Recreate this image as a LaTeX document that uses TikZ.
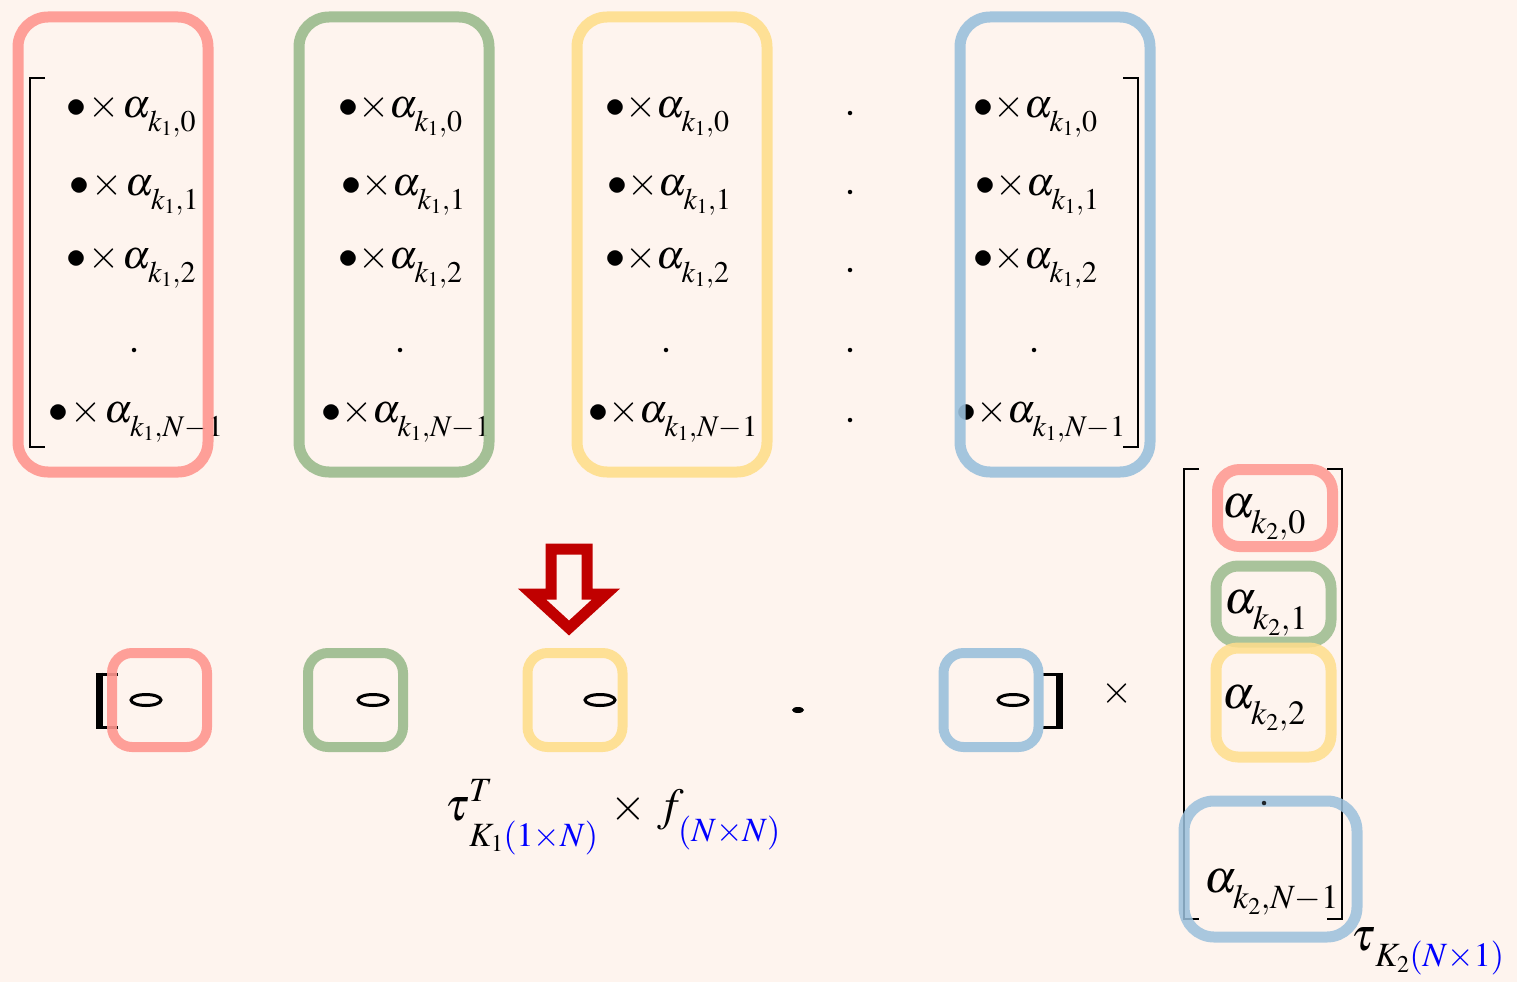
\documentclass[tikz,border=0pt]{standalone}
\usepackage{mathptmx}
\DeclareMathSizes{40}{40}{30}{21}
\DeclareMathSizes{46}{46}{34}{24}
\usetikzlibrary{shapes.geometric}
\definecolor{bg}{RGB}{254,244,238}
\definecolor{cred}{RGB}{255,150,143}
\definecolor{cgreen}{RGB}{155,187,141}
\definecolor{cyellow}{RGB}{255,222,140}
\definecolor{cblue}{RGB}{155,192,220}
\definecolor{darr}{RGB}{192,0,0}
\newcommand{\lo}[2]{\raisebox{-#1}{$\scriptstyle #2$}}
\newcommand{\hi}[2]{\raisebox{#1}{$\scriptstyle #2$}}
\newcommand{\bxa}{{\bullet}\mkern1mu{\times}\mkern1.5mu\alpha}
\newcommand{\bxt}{{\bullet}{\times}\alpha}
\begin{document}
\begin{tikzpicture}[x=1pt,y=-1pt,
  ent/.style={anchor=base west, inner sep=0pt, font=\fontsize{40}{48}\selectfont},
  rent/.style={anchor=base west, inner sep=0pt, font=\fontsize{46}{54}\selectfont},
  bigbox/.style={draw=#1, draw opacity=0.9, line width=11pt, rounded corners=30pt, minimum width=190pt, minimum height=455pt, inner sep=0pt},
  smallbox/.style={draw=#1, draw opacity=0.9, line width=10pt, rounded corners=20pt, minimum width=95pt, minimum height=94pt, inner sep=0pt},
  vbox/.style={draw=#1, draw opacity=0.85, line width=11pt, rounded corners=22pt, inner sep=0pt},
  dotnode/.style={circle, fill=black, inner sep=0pt, minimum size=4.5pt},
  ring/.style={ellipse, draw=black, line width=3pt, minimum width=30pt, minimum height=11pt, inner sep=0pt},
  brk/.style={line width=2pt},
]
\fill[bg] (0,0) rectangle (1517,982);
\useasboundingbox (0,0) rectangle (1517,982);

% ---- top matrix entries
\node[ent] (a10) at (66,117) {$\bxa_{\lo{8pt}{k_1,0}}$};
\node[ent] (a11) at (69,195) {$\bxa_{\lo{8pt}{k_1,1}}$};
\node[ent] (a12) at (66,268) {$\bxa_{\lo{8pt}{k_1,2}}$};
\node[dotnode] (a1d) at (134,350) {};
\node[ent] (a1n) at (48,422) {$\bxa_{\lo{8pt}{k_1,N{-}1}}$};

\node[ent] (a20) at (338,117) {$\bxt_{\lo{8pt}{k_1,0}}$};
\node[ent] (a21) at (341,195) {$\bxt_{\lo{8pt}{k_1,1}}$};
\node[ent] (a22) at (338,268) {$\bxt_{\lo{8pt}{k_1,2}}$};
\node[dotnode] (a2d) at (400,350) {};
\node[ent] (a2n) at (321,422) {$\bxt_{\lo{8pt}{k_1,N{-}1}}$};

\node[ent] (a30) at (605,117) {$\bxt_{\lo{8pt}{k_1,0}}$};
\node[ent] (a31) at (607,195) {$\bxt_{\lo{8pt}{k_1,1}}$};
\node[ent] (a32) at (605,268) {$\bxt_{\lo{8pt}{k_1,2}}$};
\node[dotnode] (a3d) at (666,350) {};
\node[ent] (a3n) at (588,422) {$\bxt_{\lo{8pt}{k_1,N{-}1}}$};

\node[dotnode] (d1) at (850,113) {};
\node[dotnode] (d2) at (850,192) {};
\node[dotnode] (d3) at (850,270) {};
\node[dotnode] (d4) at (850,350) {};
\node[dotnode] (d5) at (850,420) {};

\node[ent] (a50) at (973,117) {$\bxt_{\lo{8pt}{k_1,0}}$};
\node[ent] (a51) at (975,195) {$\bxt_{\lo{8pt}{k_1,1}}$};
\node[ent] (a52) at (973,268) {$\bxt_{\lo{8pt}{k_1,2}}$};
\node[dotnode] (a5d) at (1034,350) {};
\node[ent] (a5n) at (956,422) {$\bxt_{\lo{8pt}{k_1,N{-}1}}$};

% top brackets
\draw[brk] (45,78) -- (30,78) -- (30,447) -- (45,447);
\draw[brk] (1123,78) -- (1138,78) -- (1138,447) -- (1123,447);

% top boxes
\node[bigbox=cred] (b1) at (113,244.5) {};
\node[bigbox=cgreen] (b2) at (394,244.5) {};
\node[bigbox=cyellow] (b3) at (672,244.5) {};
\node[bigbox=cblue] (b5) at (1055,244.5) {};

% ---- arrow
\draw[draw=darr, line width=11pt, line join=miter]
  (551,549) -- (587,549) -- (587,594) -- (606,594) -- (569,628) -- (532,594) -- (551,594) -- cycle;

% ---- bottom row
\node[ring] (r1) at (146,700) {};
\node[ring] (r2) at (373,700) {};
\node[ring] (r3) at (600,700) {};
\node[ring] (r5) at (1013,700) {};
\node[ellipse, fill=black, minimum width=12pt, minimum height=6pt, inner sep=0pt] (bd) at (798,710) {};
\draw[line width=3pt] (118,674) -- (99,674);
\draw[line width=3pt] (118,727) -- (99,727);
\draw[line width=7pt] (99,672.5) -- (99,728.5);
\draw[line width=3pt] (1043,674) -- (1059,674);
\draw[line width=3pt] (1043,727) -- (1059,727);
\draw[line width=7pt] (1059,672.5) -- (1059,728.5);

\node[smallbox=cred] (s1) at (159.5,700) {};
\node[smallbox=cgreen] (s2) at (355.5,700) {};
\node[smallbox=cyellow] (s3) at (575,700) {};
\node[smallbox=cblue] (s5) at (991,700) {};

\node[inner sep=0pt, font=\fontsize{40}{48}\selectfont] (mul) at (1117,693) {$\times$};

\node[anchor=base west, inner sep=0pt, font=\fontsize{46}{54}\selectfont] (tauf) at (445,820)
  {$\tau^{\hi{2pt}{T}}_{\lo{15pt}{\,K_1{\color{blue}(1{\times}N)}}}\mathbin{\,\times\,}f_{\lo{15pt}{\color{blue}(N{\times}N)}}$};

% ---- right column vector
\node[rent] (c0) at (1222,517) {$\alpha_{\lo{10pt}{k_2,0}}$};
\node[rent] (c1) at (1224,613) {$\alpha_{\lo{10pt}{k_2,1}}$};
\node[rent] (c2) at (1222,708) {$\alpha_{\lo{10pt}{k_2,2}}$};
\node[rent] (cn) at (1204,892) {$\alpha_{\lo{10pt}{k_2,N{-}1}}$};

\draw[brk] (1199,469) -- (1184,469) -- (1184,919) -- (1199,919);
\draw[brk] (1327,469) -- (1342,469) -- (1342,919) -- (1327,919);

\node[vbox=cred, minimum width=115pt, minimum height=77pt] (v0) at (1275,508) {};
\node[vbox=cgreen, minimum width=115pt, minimum height=76pt] (v1) at (1273.5,604) {};
\node[vbox=cyellow, minimum width=115pt, minimum height=109pt] (v2) at (1273.5,702.5) {};
\node[vbox=cblue, minimum width=173pt, minimum height=136pt, rounded corners=30pt] (v3) at (1270.5,869) {};
\node[dotnode, fill=black!80!cblue] (cd) at (1264,803) {};

\node[rent] (tau2) at (1351,950) {$\tau_{\lo{10pt}{\,K_2{\color{blue}(N{\times}1)}}}$};
\end{tikzpicture}
\end{document}
